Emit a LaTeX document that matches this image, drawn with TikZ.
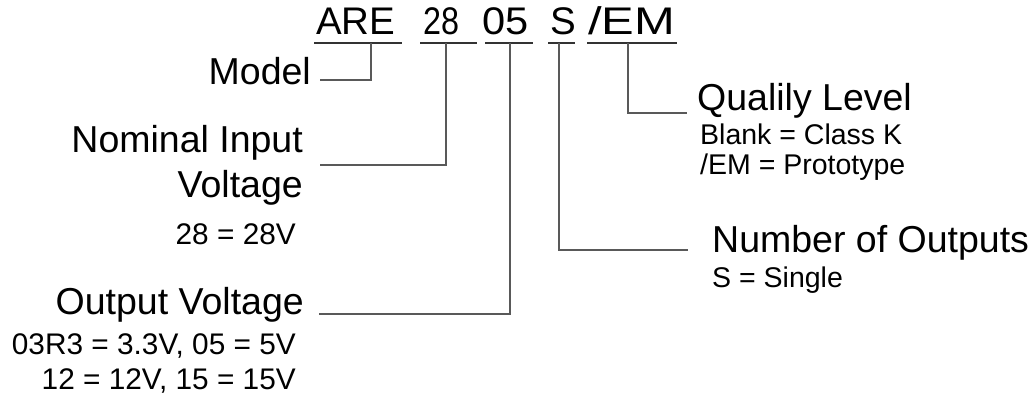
\documentclass[tikz,border=0pt]{standalone}
\usepackage{fontspec}
\usepackage{graphicx}
\setmainfont{Liberation Sans}
\begin{document}
\begin{tikzpicture}[x=1pt,y=-1pt,
  big/.style={font=\fontsize{37.5}{45}\selectfont, inner sep=0pt},
  small/.style={font=\fontsize{28.5}{34}\selectfont, inner sep=0pt},
  smallleft/.style={font=\fontsize{29.8}{34}\selectfont, inner sep=0pt},
  code/.style={font=\fontsize{38.5}{45}\selectfont, inner sep=0pt, anchor=base west},
  uline/.style={line width=1.2pt, draw=black!80},
  conn/.style={line width=1.2pt, draw=black!65}]
\useasboundingbox (0,0) rectangle (1031,395);

% code parts
\node[code] (are) at (316,35) {ARE};
\node[code] (n28) at (423,35) {\scalebox{0.84}[1]{28}};
\node[code] (n05) at (482,35) {\scalebox{1.08}[1]{05}};
\node[code] (ns)  at (550,35) {S};
\node[code] (nem) at (588,35) {\scalebox{1.27}[1]{/EM}};

% underlines
\coordinate (u1a) at (314,43); \coordinate (u1b) at (402,43);
\coordinate (u2a) at (420,43); \coordinate (u2b) at (477,43);
\coordinate (u3a) at (485,43); \coordinate (u3b) at (533,43);
\coordinate (u4a) at (548,43); \coordinate (u4b) at (575,43);
\coordinate (u5a) at (587,43); \coordinate (u5b) at (677,43);
\foreach \i in {1,...,5} { \draw[uline] (u\i a) -- (u\i b); }

% left labels
\node[big,anchor=base east] (model) at (311,85) {Model};
\node[big,anchor=base east] (nom1) at (303,153) {Nominal Input};
\node[big,anchor=base east] (nom2) at (303,198) {Voltage};
\node[smallleft,anchor=base east] (nom3) at (296,245) {28 = 28V};
\node[big,anchor=base east] (out1) at (304,315) {Output Voltage};
\node[smallleft,anchor=base east] (out2) at (296,355) {03R3 = 3.3V, 05 = 5V};
\node[smallleft,anchor=base east] (out3) at (296,389) {12 = 12V, 15 = 15V};

% right labels
\node[big,anchor=base west] (q1) at (697,111) {Qualily Level};
\node[small,anchor=base west] (q2) at (700,145) {Blank = Class K};
\node[small,anchor=base west] (q3) at (700,175) {/EM = Prototype};
\node[big,anchor=base west] (s1) at (712,253) {Number of Outputs};
\node[small,anchor=base west] (s2) at (712,288) {S = Single};

% branch points and leader ends
\coordinate (b1) at (371,43); \coordinate (e1) at (320,80);
\coordinate (b2) at (446,43); \coordinate (e2) at (320,165);
\coordinate (b3) at (510,43); \coordinate (e3) at (319,314);
\coordinate (b4) at (559,43); \coordinate (e4) at (688,250);
\coordinate (b5) at (628,43); \coordinate (e5) at (687,113);

\draw[conn] (b1) |- (e1);
\draw[conn] (b2) |- (e2);
\draw[conn] (b3) |- (e3);
\draw[conn] (b4) |- (e4);
\draw[conn] (b5) |- (e5);
\end{tikzpicture}
\end{document}
